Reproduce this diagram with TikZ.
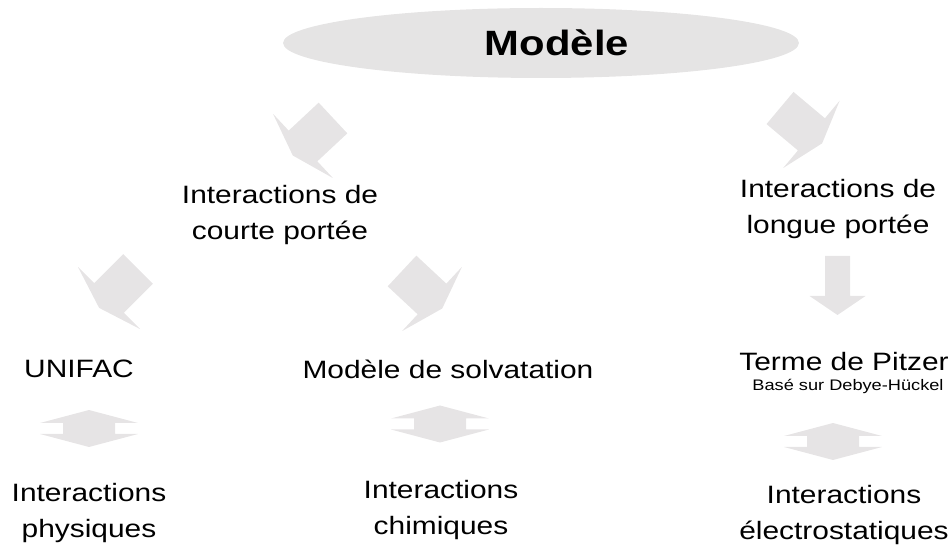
\documentclass[tikz,border=0pt]{standalone}
\usepackage{fontspec}
\setmainfont[FakeStretch=1.19]{Liberation Sans}
\usetikzlibrary{shapes.geometric}

\definecolor{grisfleche}{RGB}{230,228,229}
\definecolor{grisovale}{RGB}{229,228,228}

\tikzset{
  texte/.style={align=center, inner sep=0pt, font=\fontsize{14.3}{20.4}\selectfont},
  petit/.style={align=center, inner sep=0pt, font=\fontsize{8.7}{10}\selectfont},
  titre/.style={inner sep=0pt, font=\fontsize{20}{24}\selectfont\bfseries},
  ovale/.style={ellipse, fill=grisovale, inner sep=0pt, minimum width=10.32cm, minimum height=1.4cm},
  pics/fleche/.style n args={4}{code={
    \fill[grisfleche] (-#1,0) -- (#1,0) -- (#1,#2) -- (#3,#2) -- (0,#2+#4) -- (-#3,#2) -- (-#1,#2) -- cycle;}},
  pics/doublefleche/.style={code={
    \fill[grisfleche] (0,-18.5) -- (49,-5.5) -- (26,-5.5) -- (26,5.5) -- (49,5.5) -- (0,18.5) -- (-49,5.5) -- (-26,5.5) -- (-26,-5.5) -- (-49,-5.5) -- cycle;}},
}

\begin{document}
\begin{tikzpicture}[x=0.02cm, y=-0.02cm]

\useasboundingbox (0,0) rectangle (950,546);

\node[ovale] (ovale) at (541,43) {};
\node[titre] (modele) at (557,43) {Modèle};

\coordinate (flecheA) at (333,118);
\coordinate (flecheB) at (780,108);
\coordinate (flecheC) at (138,269);
\coordinate (flecheD) at (402,271);
\coordinate (flecheE) at (837.5,256);
\coordinate (dfgauche) at (89,428.5);
\coordinate (dfmilieu) at (440,424);
\coordinate (dfdroite) at (833,441.5);

\pic[rotate=-47] at (flecheA) {fleche={21}{41}{44}{14}};
\pic[rotate=50] at (flecheB) {fleche={21}{41}{44}{14}};
\pic[rotate=-45] at (flecheC) {fleche={21}{41}{44}{14}};
\pic[rotate=47] at (flecheD) {fleche={21}{41}{44}{14}};
\pic at (flecheE) {fleche={12.5}{40}{28}{19}};

\pic at (dfgauche) {doublefleche};
\pic at (dfmilieu) {doublefleche};
\pic at (dfdroite) {doublefleche};

\node[texte] (courte) at (280,215) {Interactions de\\courte portée};
\node[texte] (longue) at (838,209) {Interactions de\\longue portée};

\node[texte] (unifac) at (79,369) {UNIFAC};
\node[texte] (solvatation) at (448,369) {Modèle de solvatation};
\node[texte] (pitzer) at (844,362) {Terme de Pitzer};
\node[petit] (debye) at (848,386) {Basé sur Debye-Hückel};

\node[texte] (physiques) at (89,513) {Interactions\\physiques};
\node[texte] (chimiques) at (441,510) {Interactions\\chimiques};
\node[texte] (electro) at (844,515) {Interactions\\électrostatiques};

\end{tikzpicture}
\end{document}
